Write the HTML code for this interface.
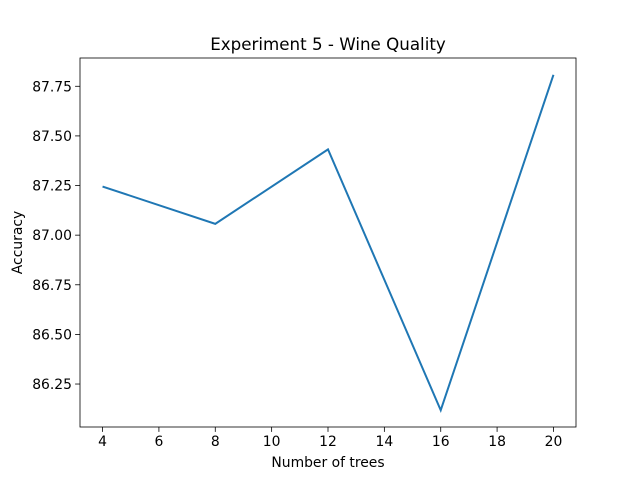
<!DOCTYPE html>
<html><head><meta charset="utf-8"><style>
body{margin:0;background:#fff;}
svg text{font-family:"DejaVu Sans","Liberation Sans",sans-serif;fill:#000;}
</style></head><body>
<svg id="chart" width="640" height="480" xmlns="http://www.w3.org/2000/svg">
<rect width="640" height="480" fill="#fff"/>
<g id="plot"></g>
</svg>
<script>
const xValues=[4,8,12,16,20];
const yValues=[87.245,87.057,87.432,86.118,87.808];
const xTicks=[4,6,8,10,12,14,16,18,20];
const yTicks=[86.25,86.5,86.75,87.0,87.25,87.5,87.75];
const L=80,R=576,T=58,B=427;
const xmin=3.2,xmax=20.8;
const ymn=Math.min(...yValues),ymx=Math.max(...yValues),pad=(ymx-ymn)*0.05;
const ymin=ymn-pad,ymax=ymx+pad;
const sx=v=>L+(v-xmin)/(xmax-xmin)*(R-L);
const sy=v=>B-(v-ymin)/(ymax-ymin)*(B-T);
const NS="http://www.w3.org/2000/svg";
const g=document.getElementById('plot');
function mk(t,a){const e=document.createElementNS(NS,t);for(const k in a)e.setAttribute(k,a[k]);g.appendChild(e);return e;}
xTicks.forEach(v=>{
 const x=sx(v);
 const t=mk('line',{x1:x,x2:x,y1:B,y2:B+4.9,stroke:'#000','stroke-width':0.8});
 
 
 const l=mk('text',{x:x,y:B+19,'font-size':13.9,'text-anchor':'middle'});l.textContent=v;
 
 
});
yTicks.forEach(v=>{
 const y=sy(v);
 const t=mk('line',{x1:L-4.9,x2:L,y1:y,y2:y,stroke:'#000','stroke-width':0.8});
 
 
 const l=mk('text',{x:L-8,y:y+5,'font-size':13.9,'text-anchor':'end'});l.textContent=v.toFixed(2);
 
 
});
const p=mk('polyline',{points:xValues.map((x,i)=>sx(x)+','+sy(yValues[i])).join(' '),fill:'none',stroke:'#1f77b4','stroke-width':2});


const f=mk('rect',{x:L,y:T,width:R-L,height:B-T,fill:'none',stroke:'#000','stroke-width':0.8});


const ti=mk('text',{x:(L+R)/2,y:T-8,'font-size':16.7,'text-anchor':'middle'});ti.textContent='Experiment 5 - Wine Quality';


const xl=mk('text',{x:(L+R)/2,y:467,'font-size':13.9,'text-anchor':'middle'});xl.textContent='Number of trees';


const yl=mk('text',{x:0,y:0,'font-size':13.9,'text-anchor':'middle',transform:'translate(22,'+((T+B)/2)+') rotate(-90)'});yl.textContent='Accuracy';


</script>
</body></html>
